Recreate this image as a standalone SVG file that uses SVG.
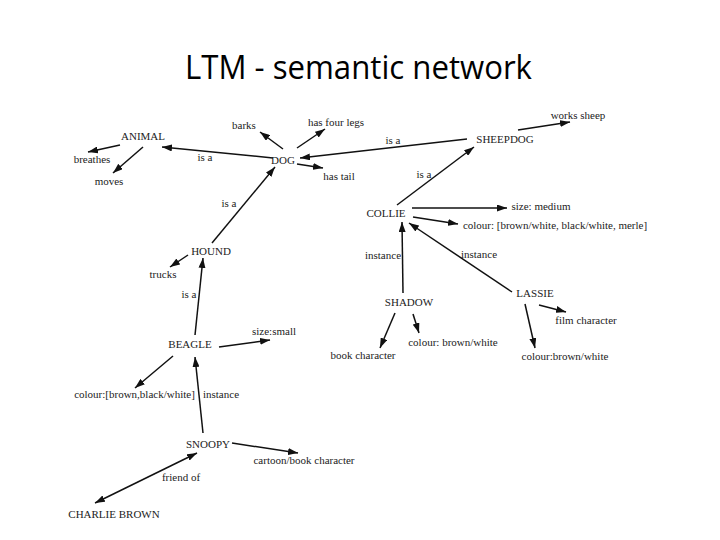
<svg xmlns="http://www.w3.org/2000/svg" width="720" height="540" viewBox="0 0 720 540">
<defs>
<marker id="ah" markerUnits="userSpaceOnUse" markerWidth="10" markerHeight="7" refX="10" refY="3.5" orient="auto-start-reverse">
<path d="M0,0 L10,3.5 L0,7 z" fill="#111"/>
</marker>
<style>
.t{font-family:"Liberation Serif","DejaVu Serif",serif;font-size:11px;fill:#222;text-anchor:middle}
.title{font-family:"Open Sans","Liberation Sans",sans-serif;font-size:33px;fill:#000;text-anchor:middle}
.c line{stroke:#111;stroke-width:1.5;marker-end:url(#ah)}
.c line.both{marker-start:url(#ah)}
</style>
</defs>
<rect width="720" height="540" fill="#fff"/>
<text class="title" x="358.5" y="79" textLength="347" lengthAdjust="spacingAndGlyphs">LTM - semantic network</text>

<g id="connectors" class="c">
<line x1="120" y1="145" x2="88" y2="152"/>
<line x1="143" y1="147" x2="113" y2="173"/>
<line x1="273" y1="158" x2="162" y2="147"/>
<line x1="283" y1="149" x2="260" y2="132"/>
<line x1="297" y1="148" x2="325" y2="129"/>
<line x1="467" y1="139" x2="300" y2="158"/>
<line x1="297" y1="164" x2="323" y2="168"/>
<line x1="212" y1="243" x2="275" y2="167"/>
<line x1="518" y1="130" x2="570" y2="122"/>
<line x1="397" y1="205" x2="474" y2="147"/>
<line x1="412" y1="208" x2="507" y2="208"/>
<line x1="413" y1="217" x2="458" y2="224"/>
<line x1="403" y1="293" x2="402" y2="222"/>
<line x1="512" y1="292" x2="409" y2="223"/>
<line x1="188" y1="255" x2="170" y2="267"/>
<line x1="195" y1="335" x2="203" y2="258"/>
<line x1="219" y1="347" x2="270" y2="340"/>
<line x1="173" y1="356" x2="135" y2="388"/>
<line x1="203" y1="433" x2="195" y2="357"/>
<line x1="232" y1="443" x2="298" y2="453"/>
<line class="both" x1="95" y1="503" x2="197" y2="453"/>
<line x1="395" y1="313" x2="380" y2="348"/>
<line x1="413" y1="314" x2="419" y2="333"/>
<line x1="525" y1="304" x2="535" y2="348"/>
<line x1="539" y1="305" x2="566" y2="312"/>
</g>

<g id="animal"><text class="t" x="143" y="140">ANIMAL</text></g>
<g id="breathes"><text class="t" x="92" y="163">breathes</text></g>
<g id="moves"><text class="t" x="109" y="185">moves</text></g>
<g id="barks"><text class="t" x="244" y="129">barks</text></g>
<g id="has-four-legs"><text class="t" x="336" y="126">has four legs</text></g>
<g id="dog"><text class="t" x="283" y="164">DOG</text></g>
<g id="has-tail"><text class="t" x="339" y="180">has tail</text></g>
<g id="sheepdog"><text class="t" x="505" y="143">SHEEPDOG</text></g>
<g id="works-sheep"><text class="t" x="578" y="119">works sheep</text></g>
<g id="collie"><text class="t" x="386" y="217">COLLIE</text></g>
<g id="size-medium"><text class="t" x="541" y="210">size: medium</text></g>
<g id="collie-colour"><text class="t" x="555" y="229">colour: [brown/white, black/white, merle]</text></g>
<g id="hound"><text class="t" x="211" y="255">HOUND</text></g>
<g id="trucks"><text class="t" x="163" y="278">trucks</text></g>
<g id="beagle"><text class="t" x="190" y="348">BEAGLE</text></g>
<g id="size-small"><text class="t" x="274" y="335">size:small</text></g>
<g id="beagle-colour"><text class="t" x="134.5" y="398">colour:[brown,black/white]</text></g>
<g id="snoopy"><text class="t" x="208" y="448">SNOOPY</text></g>
<g id="cartoon"><text class="t" x="304" y="464">cartoon/book character</text></g>
<g id="charlie-brown"><text class="t" x="114" y="518">CHARLIE BROWN</text></g>
<g id="shadow"><text class="t" x="409" y="306">SHADOW</text></g>
<g id="book-character"><text class="t" x="363" y="359">book character</text></g>
<g id="shadow-colour"><text class="t" x="453" y="346">colour: brown/white</text></g>
<g id="lassie"><text class="t" x="535" y="297">LASSIE</text></g>
<g id="film-character"><text class="t" x="586" y="324">film character</text></g>
<g id="lassie-colour"><text class="t" x="565" y="360">colour:brown/white</text></g>

<g id="edge-labels">
<text class="t" x="205" y="161">is a</text>
<text class="t" x="393" y="144">is a</text>
<text class="t" x="424" y="178">is a</text>
<text class="t" x="229" y="207">is a</text>
<text class="t" x="189" y="298">is a</text>
<text class="t" x="221" y="398">instance</text>
<text class="t" x="181" y="481">friend of</text>
<text class="t" x="383" y="259">instance</text>
<text class="t" x="479" y="258">instance</text>
</g>
</svg>
